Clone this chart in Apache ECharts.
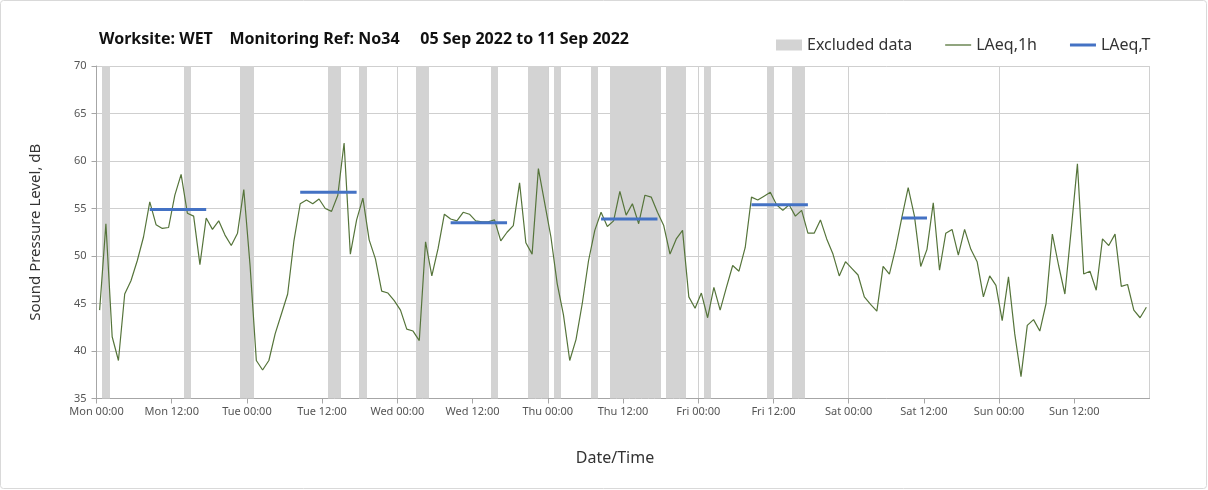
<!DOCTYPE html>
<html>
<head>
<meta charset="utf-8">
<script src="https://cdn.jsdelivr.net/npm/echarts@6/dist/echarts.min.js"></script>
<style>
html,body{margin:0;padding:0;background:#fff;}
#chart{width:1208px;height:490px;}
</style>
</head>
<body>
<div id="chart"></div>
<script>
// Hourly LAeq,1h values, Mon 00:00 .. Sun 23:00 (168 hours)
const laeq1h = [
44.3,53.4,41.5,39.0,46.0,47.4,49.5,52.0,55.7,53.3,52.9,53.0,56.4,58.6,54.5,54.2,49.1,54.0,52.8,53.7,52.2,51.1,52.4,57.0,
49.0,39.0,38.0,39.0,41.8,43.9,46.0,51.6,55.5,55.9,55.5,56.0,55.0,54.7,56.4,61.9,50.2,53.8,56.1,51.7,49.7,46.3,46.1,45.3,
44.3,42.3,42.1,41.1,51.5,47.9,50.8,54.4,53.9,53.7,54.6,54.4,53.7,53.6,53.6,53.8,51.6,52.5,53.2,57.7,51.4,50.2,59.2,55.6,
52.0,47.1,43.8,39.0,41.2,45.0,49.5,52.7,54.6,53.1,53.7,56.8,54.3,55.5,53.4,56.4,56.2,54.6,53.2,50.2,51.8,52.7,45.7,44.5,
46.1,43.5,46.7,44.3,46.7,49.0,48.4,50.9,56.2,55.9,56.3,56.7,55.4,54.8,55.4,54.2,54.8,52.4,52.4,53.8,51.8,50.2,47.9,49.4,
48.7,48.0,45.7,44.9,44.2,48.9,48.1,50.8,54.1,57.2,54.2,48.9,50.7,55.6,48.5,52.4,52.8,50.1,52.8,50.7,49.4,45.7,47.9,46.9,
43.2,47.8,41.8,37.3,42.7,43.3,42.1,45.0,52.3,49.0,46.0,52.7,59.7,48.1,48.4,46.4,51.8,51.1,52.3,46.8,47.0,44.3,43.5,44.6
];
// Excluded hours (hour index from Mon 00:00)
const excludedHours = [1,14,23,24,37,38,42,51,52,63,69,70,71,73,79,82,83,84,85,86,87,88,89,91,92,93,97,107,111,112];
// LAeq,T periods (first and last hour index, value)
const periodStart = [8, 32, 56, 80, 104, 128];
const periodEnd   = [17, 41, 65, 89, 113, 132];
const periodValue = [54.9, 56.7, 53.5, 53.9, 55.4, 54.0];
// Axis tick labels
const dayNames = ['Mon','Tue','Wed','Thu','Fri','Sat','Sun','Mon'];
const halfDayTimes = ['00:00','12:00'];

const chart = echarts.init(document.getElementById('chart'), null, {renderer:'canvas'});

const lineData = laeq1h.map((v,i)=>[i+0.5, v]);
const ltSeries = periodStart.map((s,k)=>({
  name:'LAeq,T', type:'line', xAxisIndex:0, yAxisIndex:0,
  data:[[s+0.5, periodValue[k]],[periodEnd[k]+0.5, periodValue[k]]],
  symbol:'none', lineStyle:{color:'#4472C4', width:3}, itemStyle:{color:'#4472C4'}, z:4, silent:true
}));

const font = 'Noto Sans, Open Sans, sans-serif';
chart.setOption({
  animation:false,
  backgroundColor:'#ffffff',
  title:{
    text:'Worksite: WET    Monitoring Ref: No34     05 Sep 2022 to 11 Sep 2022',
    left:94, top:26,
    textStyle:{fontFamily:font, fontSize:16, fontWeight:'bold', color:'#111'}
  },
  graphic:[{type:'rect', shape:{x:0.5,y:0.5,width:1206,height:488, r:3}, style:{fill:null, stroke:'#d9d9d9', lineWidth:1}, silent:true, z:-10}],
  legend:{
    left:771, top:32, itemGap:33, itemWidth:26, itemHeight:11, symbolKeepAspect:true,
    textStyle:{fontFamily:font, fontSize:16, color:'#333'},
    data:[
      {name:'Excluded data', icon:'rect', itemStyle:{color:'#d3d3d3'}},
      {name:'LAeq,1h', icon:'path://M0,0H26V1.3H0Z', itemStyle:{color:'#55743a'}},
      {name:'LAeq,T', icon:'path://M0,0H26V3H0Z', itemStyle:{color:'#4472C4'}}
    ]
  },
  grid:{left:96.5, right:58.5, top:66, bottom:91.5, containLabel:false},
  xAxis:[
    {type:'value', min:0, max:168, interval:12,
     name:'Date/Time', nameLocation:'middle', nameGap:52,
     nameTextStyle:{fontFamily:font, fontSize:16, color:'#333', padding:[0,16,0,0]},
     axisLine:{show:true, lineStyle:{color:'#a6a6a6'}},
     axisTick:{show:true, length:5, lineStyle:{color:'#a6a6a6'}},
     axisLabel:{fontFamily:font, fontSize:11, color:'#555', margin:8, showMaxLabel:false,
       formatter:function(v){ if(v>=168) return ''; return dayNames[Math.floor(v/24)]+' '+halfDayTimes[(v%24)/12]; }},
     splitLine:{show:false}},
    {type:'value', min:0, max:168, interval:24, position:'bottom',
     axisLine:{show:false}, axisTick:{show:false}, axisLabel:{show:false},
     splitLine:{show:true, lineStyle:{color:'#d0d0d0'}}}
  ],
  yAxis:{type:'value', min:35, max:70, interval:5,
    name:'Sound Pressure Level, dB', nameLocation:'middle', nameGap:53, nameRotate:90,
    nameTextStyle:{fontFamily:font, fontSize:15, color:'#333'},
    axisLine:{show:true, lineStyle:{color:'#a6a6a6'}},
    axisTick:{show:true, length:5, lineStyle:{color:'#a6a6a6'}},
    axisLabel:{fontFamily:font, fontSize:11, color:'#555', margin:10},
    splitLine:{show:true, lineStyle:{color:'#cfcfcf'}}
  },
  series:[
    {name:'Excluded data', type:'custom', xAxisIndex:0, yAxisIndex:0, z:1, silent:true,
     itemStyle:{color:'#d3d3d3'},
     data:excludedHours.map(h=>[h]),
     encode:{x:0},
     renderItem:function(params, api){
       const h = api.value(0);
       const p0 = api.coord([h, 70]);
       const p1 = api.coord([h+1, 35]);
       const x0 = Math.floor(p0[0]), x1 = Math.ceil(p1[0]);
       return {type:'rect', shape:{x:x0, y:p0[1], width:x1-x0, height:p1[1]-p0[1]}, style:{fill:'#d3d3d3'}};
     }},
    {name:'LAeq,1h', type:'line', xAxisIndex:0, yAxisIndex:0, data:lineData, symbol:'none',
     lineStyle:{color:'#55743a', width:1.2}, itemStyle:{color:'#55743a'}, z:3, silent:true}
  ].concat(ltSeries)
});
</script>
</body>
</html>
